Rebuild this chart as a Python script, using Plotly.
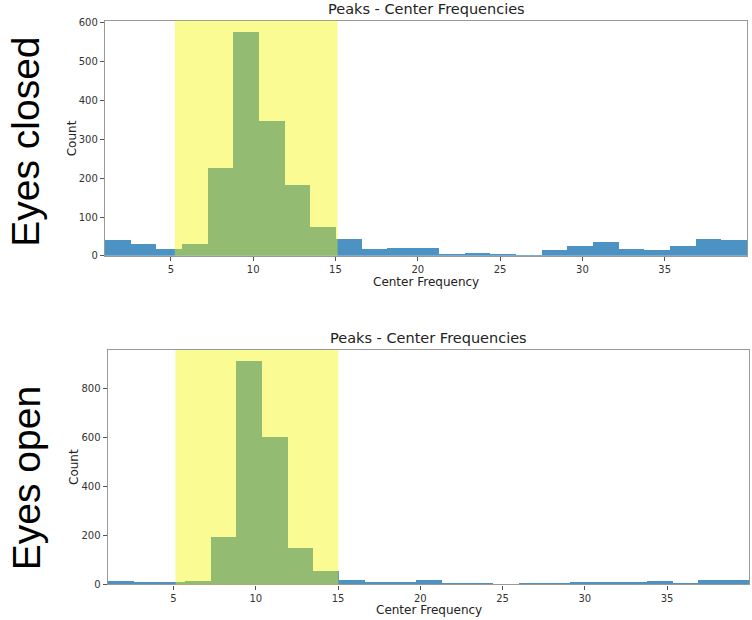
import plotly.graph_objects as go

# Histogram bin edges (Hz)
bin_edges = [1.0, 2.56, 4.12, 5.68, 7.24, 8.8, 10.36, 11.92, 13.48, 15.04, 16.6,
             18.16, 19.72, 21.28, 22.84, 24.4, 25.96, 27.52, 29.08, 30.64, 32.2,
             33.76, 35.32, 36.88, 38.44, 40.0]

counts_closed = [42, 31, 18, 31, 226, 576, 349, 184, 76, 44, 18, 22, 22, 5, 7,
                 5, 2, 15, 25, 37, 18, 16, 25, 44, 42]
counts_open = [14, 11, 11, 16, 192, 911, 603, 149, 56, 20, 9, 9, 20, 4, 6,
               1, 3, 6, 12, 12, 9, 14, 6, 17, 17]

band_closed = [5.24, 15.13]
band_open = [5.12, 15.02]

x_ticks = [5, 10, 15, 20, 25, 30, 35]
y_ticks_closed = [0, 100, 200, 300, 400, 500, 600]
y_ticks_open = [0, 200, 400, 600, 800]

title = "Peaks - Center Frequencies"
xlabel = "Center Frequency"
ylabel = "Count"
row_labels = ["Eyes closed", "Eyes open"]

W, H = 752, 620
centers = [(a + b) / 2 for a, b in zip(bin_edges[:-1], bin_edges[1:])]
widths = [b - a for a, b in zip(bin_edges[:-1], bin_edges[1:])]

BAR = "#4c92c3"
FONT = "DejaVu Sans"

fig = go.Figure()
fig.add_trace(go.Bar(x=centers, y=counts_closed, width=widths, marker_color=BAR,
                     marker_line_width=0, xaxis="x", yaxis="y", showlegend=False))
fig.add_trace(go.Bar(x=centers, y=counts_open, width=widths, marker_color=BAR,
                     marker_line_width=0, xaxis="x2", yaxis="y2", showlegend=False))

# panel pixel boxes
top = dict(x0=105, x1=747, y0=17, y1=256)
bot = dict(x0=107.7, x1=749.3, y0=351.7, y1=590)

def dom(b):
    return [b["x0"] / W, b["x1"] / W], [1 - b["y1"] / H, 1 - b["y0"] / H]

xd1, yd1 = dom(top)
xd2, yd2 = dom(bot)

axis_common = dict(showline=True, mirror=True, linecolor="#999999", linewidth=1.3,
                   ticks="outside", ticklen=4, tickcolor="#555555", showgrid=False,
                   zeroline=False, tickfont=dict(family=FONT, size=10, color="#333333"))

fig.update_layout(
    width=W, height=H, margin=dict(l=0, r=0, t=0, b=0),
    paper_bgcolor="white", plot_bgcolor="white", bargap=0,
    font=dict(family=FONT, color="#222222"),
    xaxis=dict(domain=xd1, range=[bin_edges[0], bin_edges[-1]], tickvals=x_ticks,
               anchor="y", **axis_common),
    yaxis=dict(domain=yd1, range=[0, 605], tickvals=y_ticks_closed, anchor="x",
               **axis_common),
    xaxis2=dict(domain=xd2, range=[bin_edges[0], bin_edges[-1]], tickvals=x_ticks,
                anchor="y2", **axis_common),
    yaxis2=dict(domain=yd2, range=[0, 956], tickvals=y_ticks_open, anchor="x2",
                **axis_common),
)

# highlighted alpha band
for xr, yr, band in (("x", "y domain", band_closed), ("x2", "y2 domain", band_open)):
    fig.add_shape(type="rect", xref=xr, yref=yr, x0=band[0], x1=band[1], y0=0, y1=1,
                  fillcolor="#f5f500", opacity=0.42, line_width=0, layer="above")

# titles and axis labels
for b in (top, bot):
    cx = (b["x0"] + b["x1"]) / 2 / W
    fig.add_annotation(text=title, x=cx, y=1 - (b["y0"] - 2) / H, xref="paper", yref="paper",
                       xanchor="center", yanchor="bottom", showarrow=False,
                       font=dict(family=FONT, size=14.5, color="#222222"))
    fig.add_annotation(text=xlabel, x=cx, y=1 - (b["y1"] + 17) / H, xref="paper", yref="paper",
                       xanchor="center", yanchor="top", showarrow=False,
                       font=dict(family=FONT, size=12, color="#222222"))
    fig.add_annotation(text=ylabel, x=(b["x0"] - 33) / W, y=1 - (b["y0"] + b["y1"]) / 2 / H,
                       xref="paper", yref="paper", xanchor="center", yanchor="middle",
                       textangle=-90, showarrow=False,
                       font=dict(family=FONT, size=12, color="#222222"))

# big row labels
for lab, cy in zip(row_labels, (140, 482)):
    fig.add_annotation(text=lab, x=26 / W, y=1 - cy / H, xref="paper", yref="paper",
                       xanchor="center", yanchor="middle", textangle=-90, showarrow=False,
                       font=dict(family="Liberation Sans", size=39, color="black"))

fig.write_html("out.html", config={"displayModeBar": False},
               post_script="document.body.style.margin='0';document.body.style.overflow='hidden';")
